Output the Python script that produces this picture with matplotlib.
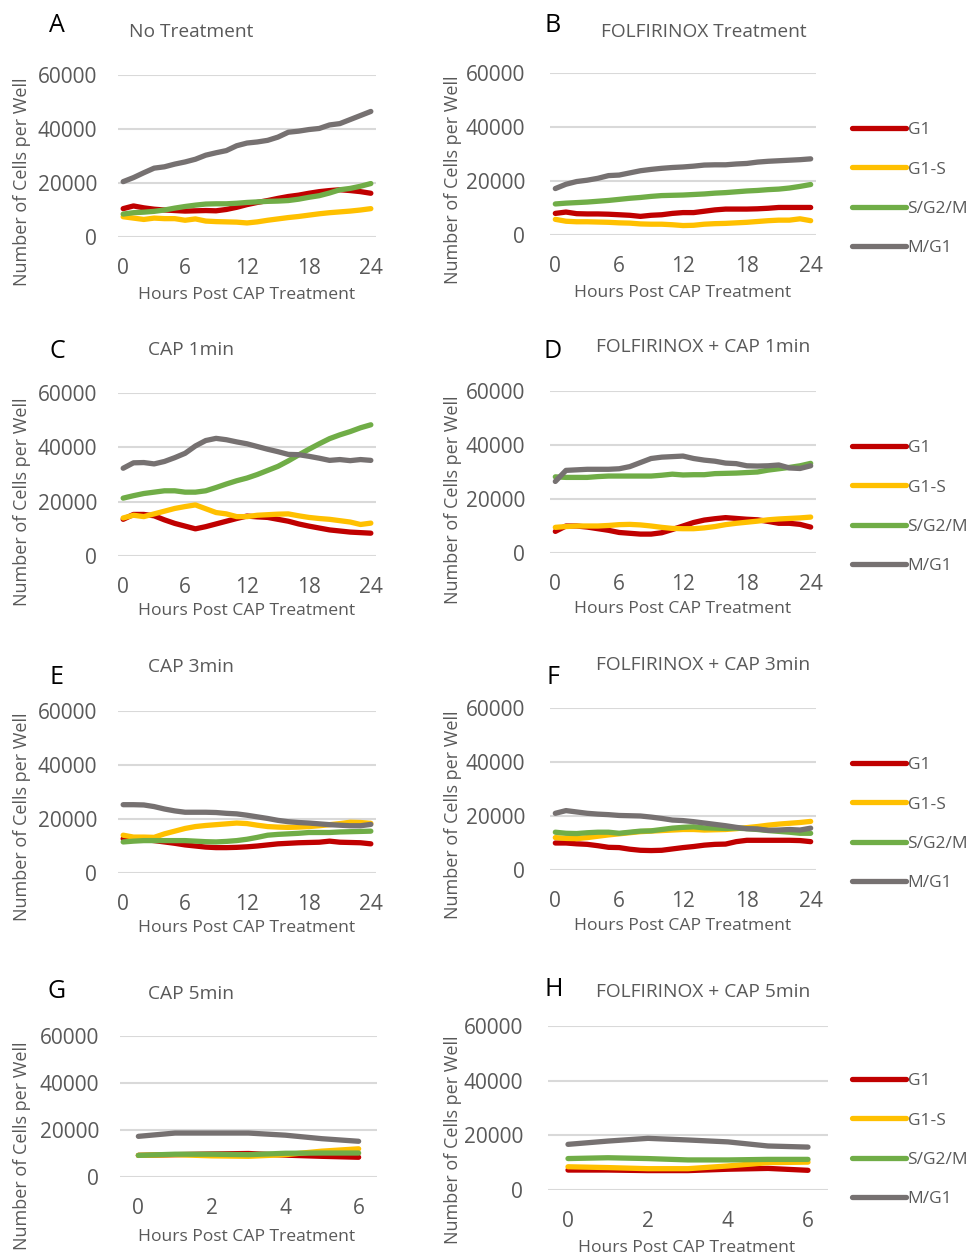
import matplotlib
matplotlib.use('Agg')
import matplotlib.pyplot as plt
from matplotlib.lines import Line2D

plt.rcParams['font.family'] = ['Open Sans', 'DejaVu Sans']

W, H = 974, 1258
fig = plt.figure(figsize=(W / 100, H / 100), dpi=100)

# ---------------- data ----------------
phases = ['G1', 'G1-S', 'S/G2/M', 'M/G1']
colors = ['#C00000', '#FFC000', '#70AD47', '#767171']

hours_24 = list(range(0, 25))
hours_6 = list(range(0, 7))
xticks_24 = [0, 6, 12, 18, 24]
xticks_6 = [0, 2, 4, 6]
yticks = [0, 20000, 40000, 60000]

# A: No Treatment
A_G1 = [10500, 11500, 10800, 10300, 10000, 9800, 9600, 9700, 9800, 9700, 10200, 11000, 12000,
        12800, 13500, 14300, 15000, 15500, 16200, 16800, 17200, 17500, 17200, 16800, 16200]
A_G1S = [7500, 7000, 6500, 7000, 6800, 6800, 6200, 6700, 5900, 5700, 5600, 5500, 5200,
         5600, 6200, 6700, 7200, 7600, 8100, 8600, 9000, 9300, 9600, 10000, 10500]
A_SG2M = [8500, 9000, 9200, 9500, 10000, 10700, 11300, 11800, 12200, 12300, 12300, 12500, 12800,
          13000, 13200, 13300, 13500, 14000, 14700, 15300, 16300, 17500, 18000, 18800, 19800]
A_MG1 = [20500, 22000, 23800, 25500, 26000, 27000, 27800, 28800, 30300, 31200, 32000, 33800, 34800,
         35200, 35800, 37000, 38800, 39200, 39800, 40200, 41500, 42000, 43500, 45000, 46500]

# B: FOLFIRINOX Treatment
B_G1 = [8000, 8500, 7900, 7800, 7800, 7700, 7500, 7300, 6900, 7300, 7500, 8000, 8300,
        8300, 8800, 9300, 9600, 9600, 9600, 9700, 9900, 10200, 10200, 10200, 10200]
B_G1S = [5800, 5100, 4900, 4900, 4800, 4700, 4500, 4400, 4100, 4000, 4000, 3800, 3500,
         3600, 4000, 4200, 4300, 4500, 4700, 5000, 5300, 5500, 5500, 6000, 5300]
B_SG2M = [11500, 11800, 12000, 12200, 12500, 12800, 13200, 13600, 13900, 14300, 14600, 14700, 14800,
          15000, 15200, 15500, 15700, 16000, 16300, 16500, 16800, 17000, 17400, 18000, 18700]
B_MG1 = [17200, 18800, 19800, 20300, 21000, 22000, 22200, 23000, 23800, 24300, 24700, 25000, 25200,
         25500, 25900, 26000, 26000, 26300, 26500, 27000, 27300, 27500, 27700, 27900, 28200]

# C: CAP 1min
C_G1 = [13500, 15300, 15300, 14800, 13300, 12000, 11000, 10000, 10800, 11800, 12800, 13800, 14700,
        14400, 14200, 13500, 12800, 11800, 11000, 10300, 9600, 9200, 8800, 8600, 8400]
C_G1S = [14000, 15000, 14500, 15500, 16500, 17500, 18200, 18800, 17400, 16000, 15500, 14500, 14500,
         15000, 15200, 15400, 15500, 14800, 14200, 13800, 13500, 13000, 12500, 11600, 12100]
C_SG2M = [21300, 22200, 23000, 23500, 24000, 24000, 23500, 23500, 24000, 25200, 26500, 27700, 28700,
          30000, 31500, 33000, 35000, 37200, 39300, 41300, 43200, 44600, 45800, 47200, 48300]
C_MG1 = [32300, 34300, 34400, 33900, 34800, 36200, 37800, 40500, 42500, 43300, 42800, 42000, 41300,
         40300, 39300, 38400, 37400, 37300, 36700, 36000, 35200, 35500, 35100, 35500, 35200]

# D: FOLFIRINOX + CAP 1min
D_G1 = [8000, 10000, 10000, 9600, 9000, 8400, 7600, 7300, 7000, 7000, 7500, 8700, 10000,
        11300, 12200, 12700, 13100, 12800, 12500, 12300, 11700, 11000, 11000, 10600, 9600]
D_G1S = [9500, 9800, 10000, 10000, 10000, 10200, 10500, 10600, 10400, 10000, 9500, 9100, 9000,
         9000, 9300, 9800, 10500, 11000, 11400, 11800, 12300, 12600, 12800, 13000, 13300]
D_SG2M = [28200, 28000, 28000, 28000, 28300, 28500, 28500, 28500, 28500, 28500, 28800, 29200, 28900,
          29000, 29000, 29400, 29500, 29600, 29800, 30000, 30700, 31200, 31700, 32300, 33200]
D_MG1 = [26500, 30600, 30800, 31000, 31000, 31000, 31200, 32000, 33500, 35000, 35500, 35700, 35900,
         35000, 34400, 34000, 33300, 33100, 32300, 32200, 32300, 32600, 31500, 31300, 32300]

# E: CAP 3min
E_G1 = [12700, 12600, 12400, 12000, 11500, 11000, 10400, 10000, 9600, 9400, 9400, 9500, 9700,
        10000, 10400, 10800, 11000, 11200, 11300, 11400, 11800, 11400, 11300, 11200, 10800]
E_G1S = [14000, 13300, 13300, 13200, 14500, 15500, 16500, 17200, 17600, 17900, 18200, 18500, 18300,
         17700, 17200, 17000, 16900, 17000, 17200, 17500, 17900, 18300, 18800, 18700, 18400]
E_SG2M = [11500, 11800, 12000, 12000, 12000, 12000, 12000, 11800, 11600, 11500, 11700, 12000, 12500,
          13200, 14000, 14300, 14500, 14700, 15000, 15000, 15000, 15200, 15300, 15400, 15500]
E_MG1 = [25300, 25300, 25200, 24600, 23700, 23000, 22500, 22500, 22500, 22400, 22100, 21900, 21400,
         20800, 20200, 19500, 19000, 18700, 18500, 18200, 17900, 17700, 17500, 17500, 18000]

# F: FOLFIRINOX + CAP 3min
F_G1 = [10000, 10000, 9700, 9500, 9000, 8400, 8300, 7700, 7300, 7200, 7300, 7800, 8300,
        8700, 9200, 9500, 9600, 10500, 11000, 11000, 11000, 11000, 11000, 10900, 10500]
F_G1S = [12000, 11700, 11600, 12000, 12500, 13000, 13400, 13800, 14200, 14400, 14600, 14800, 15000,
         15000, 14800, 14900, 15000, 15300, 15700, 16100, 16600, 17000, 17300, 17600, 18000]
F_SG2M = [14000, 13600, 13500, 13800, 14000, 14000, 13600, 14000, 14400, 14500, 15000, 15500, 15800,
          16000, 15600, 15500, 15400, 15500, 15300, 15000, 14600, 14300, 14000, 13600, 13600]
F_MG1 = [21000, 22000, 21500, 21000, 20700, 20500, 20200, 20100, 20000, 19600, 19100, 18500, 18300,
         17900, 17400, 16900, 16400, 15800, 15300, 15200, 14700, 14800, 15000, 14800, 15500]

# G: CAP 5min
G_G1 = [9200, 9500, 9800, 10000, 9300, 8800, 8400]
G_G1S = [9200, 9500, 9000, 8800, 9500, 11000, 12000]
G_SG2M = [9200, 9700, 9700, 9500, 10100, 10200, 10200]
G_MG1 = [17300, 18700, 18700, 18700, 17800, 16300, 15200]

# H: FOLFIRINOX + CAP 5min
H_G1 = [7300, 7300, 7100, 7100, 7600, 7900, 7200]
H_G1S = [8500, 8200, 7800, 7800, 8800, 10000, 10200]
H_SG2M = [11500, 11800, 11500, 11000, 11000, 11200, 11200]
H_MG1 = [16700, 17900, 18900, 18300, 17600, 16100, 15700]

panels = [
    dict(letter='A', title='No Treatment', x=hours_24, xt=xticks_24,
         series=[A_G1, A_G1S, A_SG2M, A_MG1], legend=False,
         box=(118, 75, 376, 237), lpos=(57, 25), tpos=(191, 32),
         ypos=(22, 182), xpos=(247, 295)),
    dict(letter='B', title='FOLFIRINOX Treatment', x=hours_24, xt=xticks_24,
         series=[B_G1, B_G1S, B_SG2M, B_MG1], legend=True, legy=189,
         box=(550, 73, 816, 235), lpos=(553, 25), tpos=(704, 32),
         ypos=(453, 180), xpos=(683, 293)),
    dict(letter='C', title='CAP 1min', x=hours_24, xt=xticks_24,
         series=[C_G1, C_G1S, C_SG2M, C_MG1], legend=False,
         box=(118, 393, 376, 556), lpos=(57, 352), tpos=(191, 350),
         ypos=(22, 502), xpos=(247, 611)),
    dict(letter='D', title='FOLFIRINOX + CAP 1min', x=hours_24, xt=xticks_24,
         series=[D_G1, D_G1S, D_SG2M, D_MG1], legend=True, legy=507,
         box=(550, 391, 816, 553), lpos=(553, 352), tpos=(703, 347),
         ypos=(453, 500), xpos=(683, 609)),
    dict(letter='E', title='CAP 3min', x=hours_24, xt=xticks_24,
         series=[E_G1, E_G1S, E_SG2M, E_MG1], legend=False,
         box=(118, 711, 376, 873), lpos=(57, 677), tpos=(191, 667),
         ypos=(22, 817), xpos=(247, 928)),
    dict(letter='F', title='FOLFIRINOX + CAP 3min', x=hours_24, xt=xticks_24,
         series=[F_G1, F_G1S, F_SG2M, F_MG1], legend=True, legy=824,
         box=(550, 708, 816, 870), lpos=(553, 677), tpos=(703, 665),
         ypos=(453, 815), xpos=(683, 926)),
    dict(letter='G', title='CAP 5min', x=hours_6, xt=xticks_6,
         series=[G_G1, G_G1S, G_SG2M, G_MG1], legend=False,
         box=(120, 1036, 377, 1177), lpos=(57, 991), tpos=(191, 994),
         ypos=(22, 1146), xpos=(247, 1237)),
    dict(letter='H', title='FOLFIRINOX + CAP 5min', x=hours_6, xt=xticks_6,
         series=[H_G1, H_G1S, H_SG2M, H_MG1], legend=True, legy=1140,
         box=(548, 1026, 828, 1190), lpos=(554, 990), tpos=(703, 992),
         ypos=(453, 1140), xpos=(687, 1248)),
]

TXT = '#595959'
GRID = '#D9D9D9'

for p in panels:
    l, t, r, b = p['box']
    ax = fig.add_axes([l / W, 1 - b / H, (r - l) / W, (b - t) / H])
    x = p['x']
    for vals, c, name in zip(p['series'], colors, phases):
        ax.plot(x, vals, color=c, lw=3.8, solid_capstyle='round',
                solid_joinstyle='round', label=name, zorder=3)
    ax.set_xlim(x[0] - 0.5, x[-1] + 0.5)
    ax.set_ylim(0, 60000)
    ax.set_yticks(yticks)
    ax.set_xticks(p['xt'])
    ax.set_yticklabels([str(v) for v in yticks])
    ax.grid(axis='y', color=GRID, lw=1.5, zorder=0)
    ax.set_axisbelow(True)
    for s in ax.spines.values():
        s.set_visible(False)
    ax.tick_params(axis='both', length=0, labelsize=15, labelcolor=TXT)
    ax.tick_params(axis='y', pad=(18 if p['legend'] else 15))
    ax.tick_params(axis='x', pad=15)
    ax.set_ylabel('Number of Cells per Well', fontsize=13, color=TXT, va='center')
    ax.yaxis.set_label_coords(p['ypos'][0] / W, 1 - p['ypos'][1] / H, transform=fig.transFigure)
    ax.set_xlabel('Hours Post CAP Treatment', fontsize=12.6, color=TXT, va='center')
    ax.xaxis.set_label_coords(p['xpos'][0] / W, 1 - p['xpos'][1] / H, transform=fig.transFigure)
    fig.text(p['lpos'][0] / W, 1 - p['lpos'][1] / H, p['letter'], fontsize=18,
             color='black', ha='center', va='center')
    fig.text(p['tpos'][0] / W, 1 - p['tpos'][1] / H, p['title'], fontsize=13.8,
             color=TXT, ha='center', va='center')
    if p['legend']:
        handles = [Line2D([], [], color=c, lw=3.8, solid_capstyle='round') for c in colors]
        ax.legend(handles, phases, loc='center left',
                  bbox_to_anchor=(852 / W, 1 - p['legy'] / H),
                  bbox_transform=fig.transFigure, frameon=False,
                  fontsize=12.5, labelcolor=TXT, handlelength=3.1,
                  handletextpad=0.1, labelspacing=1.32, borderpad=0,
                  borderaxespad=0)

fig.savefig('out.png', dpi=100, facecolor='white')
